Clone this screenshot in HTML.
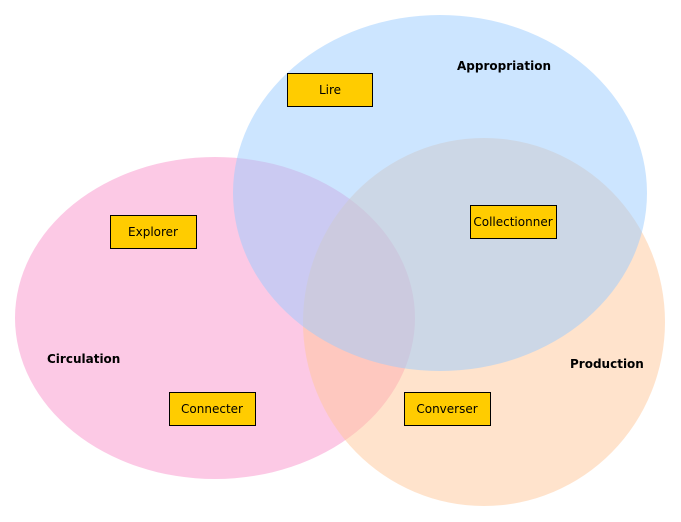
<!DOCTYPE html>
<html><head><meta charset="utf-8"><style>
html,body{margin:0;padding:0;background:#fff;}
svg{display:block;}
text{font-family:"DejaVu Sans","Liberation Sans",sans-serif;}
</style></head><body>
<svg width="681" height="522" viewBox="0 0 681 522" xmlns="http://www.w3.org/2000/svg">
<ellipse cx="215" cy="318" rx="200" ry="161" fill="#f993cc" fill-opacity="0.5"/>
<ellipse cx="484" cy="322" rx="181" ry="184" fill="#ffc899" fill-opacity="0.5"/>
<ellipse cx="440" cy="193" rx="207" ry="178" fill="#99ccff" fill-opacity="0.5"/>
<g fill="#ffcc00" stroke="#000" stroke-width="1">
<rect x="287.5" y="73.5" width="85" height="33"/>
<rect x="110.5" y="215.5" width="86" height="33"/>
<rect x="470.5" y="205.5" width="86" height="33"/>
<rect x="169.5" y="392.5" width="86" height="33"/>
<rect x="404.5" y="392.5" width="86" height="33"/>
</g>
<g font-size="12" text-anchor="middle" fill="#000">
<text x="330" y="94">Lire</text>
<text x="153" y="236">Explorer</text>
<text x="513" y="226">Collectionner</text>
<text x="212" y="413">Connecter</text>
<text x="447" y="413">Converser</text>
</g>
<g font-size="12" font-weight="bold" fill="#000">
<text x="457" y="70">Appropriation</text>
<text x="47" y="363">Circulation</text>
<text x="570" y="368">Production</text>
</g>
</svg>
</body></html>
